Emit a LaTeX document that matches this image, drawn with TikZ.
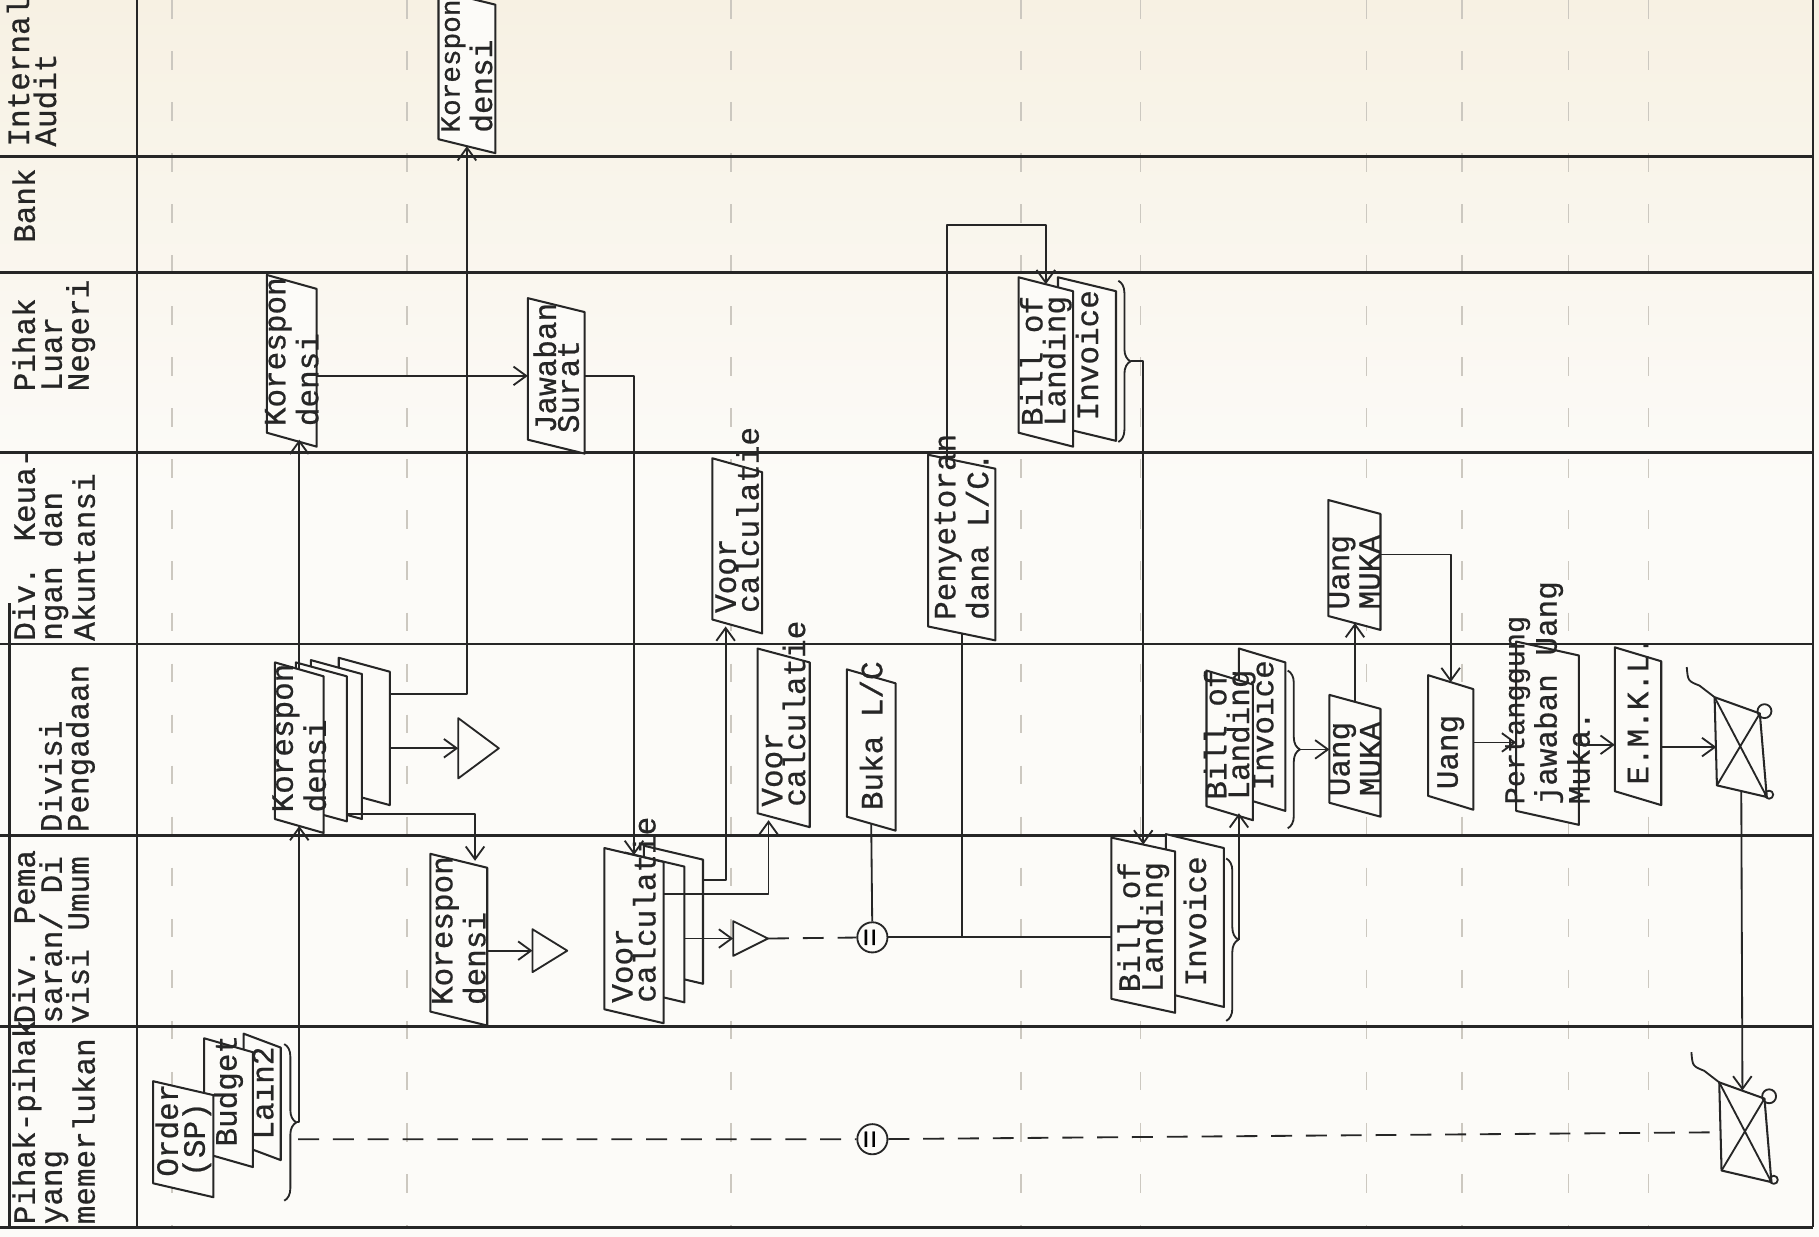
\documentclass[tikz,border=0pt]{standalone}
\usepackage{fontspec}
\newfontfamily\tw[FakeBold=0.7]{Liberation Mono}
\usetikzlibrary{arrows.meta,calc,decorations.pathreplacing}
\definecolor{ink}{HTML}{262626}
\definecolor{paper}{HTML}{FCFBF8}
\definecolor{cream}{HTML}{F7F1E3}
\definecolor{faintc}{HTML}{CCC8C0}

% document symbol: name, centre x, centre y, width, height, text
\newcommand\docnode[6]{%
  \node[docbox, minimum width=#4*0.1mm, minimum height=(#5-12)*0.1mm] (#1) at (#2,#3) {};
  \filldraw[doc] ([yshift=0.6mm]#1.north west) -- ([yshift=-0.6mm]#1.north east)
    -- ([yshift=-0.6mm]#1.south east) -- ([yshift=0.6mm]#1.south west) -- cycle;
  \node[lab, anchor=west] (#1-t) at ([yshift=1.1mm]#1.south) {#6};}

\begin{document}
\begin{tikzpicture}[x=0.1mm, y=-0.1mm, line join=round,
    lane/.style={draw=ink, line width=0.6pt},
    faint/.style={draw=faintc, line width=0.4pt, dash pattern=on 1.6mm off 2.8mm},
    docbox/.style={inner sep=0pt, outer sep=0pt},
    doc/.style={draw=ink, fill=paper, line width=0.5pt},
    lab/.style={font=\tw\fontsize{7.6}{5.6}\selectfont, text=ink, rotate=90, align=left, inner sep=0pt},
    head/.style={font=\tw\fontsize{7.6}{6.6}\selectfont, text=ink, rotate=90, align=left, inner sep=0pt},
    flow/.style={draw=ink, line width=0.45pt, -{Straight Barb[length=1.1mm,width=1.6mm]}},
    link/.style={draw=ink, line width=0.45pt},
    dashline/.style={draw=ink, line width=0.45pt, dash pattern=on 1.8mm off 1.2mm},
    conn/.style={draw=ink, fill=paper, circle, minimum size=2.6mm, inner sep=0pt, line width=0.45pt,
                 rotate=90, font=\tw\fontsize{7.6}{7}\selectfont}]
  % page 1819 x 1237 px
  \useasboundingbox (0,0) rectangle (1568,1066);
  \fill[paper] (0,0) rectangle (1568,1066);
  \shade[top color=cream, bottom color=paper] (0,0) rectangle (1568,420);

  % ================= faint ruling of the form =================
  \foreach \x in {148,351,630,880,983,1178,1260,1352,1421}
    \draw[faint] (\x,0) -- (\x,1058);

  % ================= lanes and headers =================
  \foreach \y in {135,235,390,555,720,885,1058}
    \draw[lane] (0,\y) -- (1563,\y);
  \draw[lane] (118,0) -- (118,1058);
  \draw[lane] (1563,0) -- (1563,1058);
  \draw[lane] (8,520) -- (8,1058);

  \node[head, anchor=north west] (hia) at (5,127) {Internal\\Audit};
  \node[head, anchor=north west] (hbank) at (10,210) {Bank};
  \node[head, anchor=north west] (hpln) at (10,338) {Pihak\\Luar\\Negeri};
  \node[head, anchor=north west] (hkeu) at (10,553) {Div. Keua-\\ngan dan\\Akuntansi};
  \node[head, anchor=north west] (hpeng) at (33,718) {Divisi\\Pengadaan};
  \node[head, anchor=north west] (hpem) at (10,883) {Div. Pema\\saran/ Di\\visi Umum};
  \node[head, anchor=north west] (hpih) at (10,1056) {Pihak-pihak\\yang\\memerlukan};

  % ================= documents =================
  % order documents
  \docnode{lain}{226}{945.5}{32}{109}{Lain2}
  \docnode{bud}{197}{950.5}{42}{111}{Budget}
  \docnode{ord}{158}{982}{52}{100}{Order\\(SP)}
  \draw[link, decorate, decoration={brace, amplitude=3pt}] (245,900) -- (245,1035);
  \coordinate (bra) at (256,967.5);

  % korespondensi
  \docnode{kora4}{314}{630.5}{44}{127}{}
  \docnode{kora3}{290}{637.5}{44}{137}{}
  \docnode{kora2}{277}{639.5}{44}{137}{}
  \docnode{kora}{258}{644.5}{42}{147}{Korespon\\densi}
  \docnode{koria}{402.5}{62}{49}{140}{\fontsize{6.8}{5.4}\selectfont Korespon\\densi}
  \docnode{korpln}{251.5}{311}{43}{148}{Korespon\\densi}
  \docnode{korpem}{395.5}{810}{49}{148}{Korespon\\densi}
  \docnode{jaw}{479.5}{324}{49}{134}{Jawaban\\Surat}

  % voorcalculatie
  \docnode{voora3}{580.5}{788.5}{51}{119}{}
  \docnode{voora2}{564.5}{799.5}{51}{129}{}
  \docnode{voora}{546.5}{806.5}{51}{151}{Voor\\calculatie}
  \docnode{voork}{635.5}{470.5}{43}{151}{Voor\\calculatie}
  \docnode{voorp}{675.5}{636}{45}{154}{Voor\\calculatie}
  \docnode{buka}{751}{646.5}{42}{139}{Buka L/C}
  \docnode{peny}{829}{472}{58}{160}{Penyetoran\\dana L/C.}

  % bill of landing + invoice
  \docnode{invl}{937}{309.5}{50}{141}{Invoice}
  \docnode{boll}{901.5}{312}{47}{146}{Bill of\\Landing}
  \draw[link, decorate, decoration={brace, amplitude=3pt}] (964,242) -- (964,381);
  \coordinate (brl) at (975,311.5);
  \docnode{invp}{1030}{793.5}{50}{149}{Invoice}
  \docnode{bolp}{985.5}{797.5}{55}{151}{Bill of\\Landing}
  \draw[link, decorate, decoration={brace, amplitude=3pt}] (1057,740) -- (1057,880);
  \coordinate (brp) at (1068,810);
  \docnode{invg}{1088}{629}{40}{140}{Invoice}
  \docnode{bolg}{1060}{642.5}{40}{129}{Bill of\\Landing}
  \draw[link, decorate, decoration={brace, amplitude=3pt}] (1110,578) -- (1110,714);
  \coordinate (brg) at (1121,646);

  % uang muka
  \docnode{ump}{1168}{651.5}{44}{105}{Uang\\MUKA}
  \docnode{umk}{1167.5}{487}{45}{112}{Uang\\MUKA}
  \docnode{uang}{1250.5}{640}{39}{116}{Uang}
  \docnode{pert}{1334}{632}{54}{158}{\fontsize{7}{4.7}\selectfont Pertanggung\\jawaban Uang\\Muka.}
  \docnode{emkl}{1412}{626}{40}{136}{E.M.K.L.}

  % ================= files (triangles) and archives =================
  \foreach \n/\x/\y/\w/\h in {tria/395/645/35/26, trib/459/819.5/30/18.5, tric/632/809/30/15} {
    \draw[link] (\x,\y-\h) -- (\x+\w,\y) -- (\x,\y+\h) -- cycle;
    \coordinate (\n) at (\x,\y);
    \coordinate (\n-tip) at (\x+\w,\y);
  }
  \foreach \n/\x/\y in {scra/1478/601, scrb/1482/933} {
    \draw[doc] (\x,\y) -- (\x+39,\y+14) -- (\x+45,\y+86) -- (\x+2,\y+76) -- cycle;
    \draw[link] (\x,\y) -- (\x+45,\y+86) (\x+39,\y+14) -- (\x+2,\y+76);
    \draw[link] (\x-24,\y-26) .. controls (\x-23,\y-14) .. (\x-13,\y-10) -- (\x,\y);
    \draw[link] (\x+43,\y+12) circle [radius=6];
    \draw[link] (\x+47,\y+84) circle [radius=3.5];
    \coordinate (\n) at (\x+1.5,\y+43);
    \coordinate (\n-top) at (\x+20,\y+7);
    \coordinate (\n-bot) at (\x+23,\y+81);
  }

  \node[conn] (conna) at (752,808) {=};
  \node[conn] (connb) at (752,982) {=};
  \coordinate (dasha) at (257,982);

  % ================= connectors =================
  \draw[flow] (bra) -| (kora.south);
  \draw[flow] (kora.north) -- (kora.north |- korpln.south);
  \draw[flow] ($(kora4.east)+(0,-32)$) -| (koria.south);
  \draw[flow] (kora4.east |- tria) -- (tria);
  \draw[flow] (kora2.south east) -| ($(korpem.north)+(14,0)$);
  \draw[flow] (korpem.east |- trib) -- (trib);
  \draw[flow] (korpln.east |- jaw.west) -- (jaw.west);
  \draw[flow] (jaw.east) -| (voora.north);
  \draw[flow] ($(voora3.east)+(0,-30)$) -| ($(voork.south)+(-10,0)$);
  \draw[flow] ($(voora.east)+(0,-36)$) -| ($(voorp.south)+(-13,0)$);
  \draw[flow] (voora2.east |- tric) -- (tric);
  \draw[dashline] (tric-tip) -- (conna);
  \draw[link] (conna) -- (buka.south);
  \draw[link] (conna) -- (conna -| bolp.west);
  \draw[link] (conna -| peny.south) -- (peny.south);
  \draw[flow] ($(peny.north)+(-13,0)$) |- ($(boll.north)+(0,-51)$) -- (boll.north);
  \draw[flow] (brl) -| (bolp.north);
  \draw[flow] (brp) -| ($(bolg.south)+(8,0)$);
  \draw[flow] (brg) -- (brg -| ump.west);
  \draw[flow] (ump.north) -- (ump.north |- umk.south);
  \draw[flow] ($(umk.east)+(0,-9)$) -| (uang.north);
  \draw[flow] (uang.east) -- (uang.east -| pert.west);
  \path (pert.east) ++(0,10) coordinate (pe);
  \draw[flow] (pe) -- (pe -| emkl.west);
  \draw[flow] (emkl.east |- scra) -- (scra);
  \draw[flow] (scra-bot) -- (scrb-top);
  \draw[dashline] (dasha) -- (connb) -- (scrb);
\end{tikzpicture}
\end{document}
